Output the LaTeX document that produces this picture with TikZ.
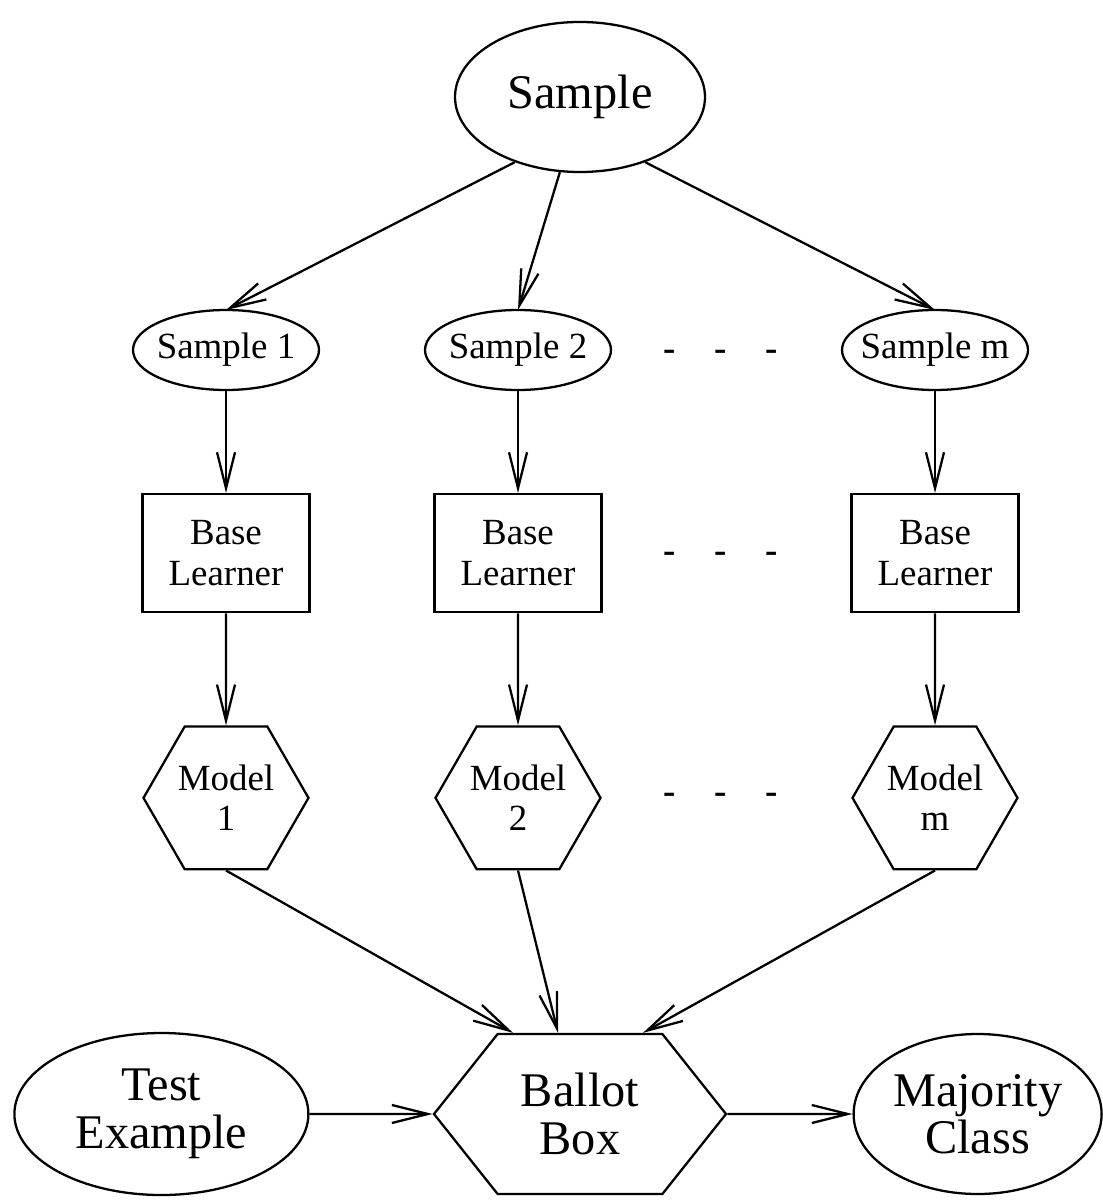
\documentclass[tikz,border=0pt]{standalone}
\usepackage{fontspec}
\setmainfont{Liberation Serif}
\usepackage{tikz}
\usetikzlibrary{shapes.geometric, shapes.symbols, arrows.meta, positioning, calc}
\newcommand{\smalltxt}{\fontsize{21}{23}\selectfont}
\newcommand{\bigtxt}{\fontsize{27.5}{27}\selectfont}
\tikzstyle{bigoval} = [ellipse, inner sep=0pt, align=center,
                       draw=black, line width=1.3pt, font=\bigtxt]
\tikzstyle{sampleoval} = [ellipse, minimum width=3.72cm, minimum height=1.6cm,
                          inner sep=0pt, inner xsep=-0.25cm, outer sep=0pt,
                          draw=black, line width=1.3pt, font=\smalltxt]
\tikzstyle{learner} = [rectangle, minimum width=3.34cm, minimum height=2.36cm,
                       align=center, draw=black, line width=1.3pt, font=\smalltxt]
\tikzstyle{model} = [regular polygon, regular polygon sides=6, minimum size=3.3cm,
                     inner sep=0pt, align=center, draw=black, line width=1.3pt, font=\smalltxt]
\tikzstyle{ballotbox} = [signal, signal to=east and west, signal pointer angle=103,
                         minimum width=5.84cm, minimum height=3.2cm, inner sep=0pt,
                         align=center, draw=black, line width=1.3pt, font=\bigtxt]
\tikzstyle{gap} = [inner sep=0pt, font=\smalltxt\bfseries]
\tikzstyle{arrow} = [-{Straight Barb[length=0.72cm, width=0.36cm]}, line width=1.3pt]

\begin{document}
\begin{tikzpicture}
    \useasboundingbox (0,0) rectangle (22.04,-24);

    % Top
    \node[bigoval, minimum width=5cm, minimum height=3cm] (sample) at (11.6,-1.94) {Sample};

    % Row 1
    \node[sampleoval] (s1) at (4.52,-7.0) {Sample 1};
    \node[sampleoval, right=2.12cm of s1] (s2) {Sample 2};
    \node[sampleoval, right=4.62cm of s2] (sm) {Sample m};

    % Row 2
    \node[learner, below=2.06cm of s1] (b1) {Base\\Learner};
    \node[learner, below=2.06cm of s2] (b2) {Base\\Learner};
    \node[learner, below=2.06cm of sm] (bm) {Base\\Learner};

    % Row 3
    \node[model, below=2.24cm of b1] (m1) {Model\\1};
    \node[model, below=2.24cm of b2] (m2) {Model\\2};
    \node[model, below=2.24cm of bm] (mm) {Model\\m};

    % Gaps
    \node[gap] (g1) at (14.42,-7.1) {-\hspace{22pt}-\hspace{22pt}-};
    \node[gap] (g2) at (14.42,-11.14) {-\hspace{22pt}-\hspace{22pt}-};
    \node[gap] (g3) at (14.42,-15.96) {-\hspace{22pt}-\hspace{22pt}-};

    % Bottom
    \node[ballotbox] (ballot) at (11.6,-22.28) {Ballot\\Box};
    \node[bigoval, minimum width=5.88cm, minimum height=3.24cm, left=2.46cm of ballot] (test) {Test\\Example};
    \node[bigoval, minimum width=4.96cm, minimum height=3.2cm, right=2.5cm of ballot] (major) {Majority\\Class};

    % Arrows from sample
    \draw[arrow] (sample.225) -- (s1.north);
    \draw[arrow] (sample.255) -- (s2.north);
    \draw[arrow] (sample.315) -- (sm.north);

    % Arrows down
    \draw[arrow] (s1) -- (b1);
    \draw[arrow] (s2) -- (b2);
    \draw[arrow] (sm) -- (bm);
    \draw[arrow] (b1) -- (m1);
    \draw[arrow] (b2) -- (m2);
    \draw[arrow] (bm) -- (mm);

    % Arrows to ballot
    \draw[arrow] (m1.south) -- ($(ballot.north)+(-1.34,0)$);
    \draw[arrow] (m2.south) -- ($(ballot.north)+(-0.44,0)$);
    \draw[arrow] (mm.south) -- ($(ballot.north)+(1.26,0)$);
    \draw[arrow] (test) -- (ballot);
    \draw[arrow] (ballot) -- (major);
\end{tikzpicture}
\end{document}
